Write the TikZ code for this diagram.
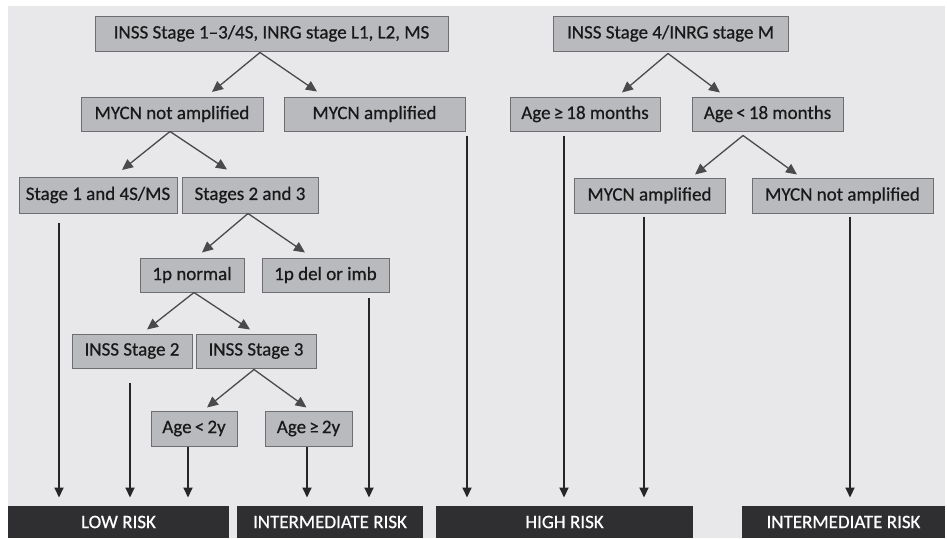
\documentclass[tikz,border=0pt]{standalone}
\usepackage{fontspec}
\setmainfont{Carlito}
\newfontfamily\boxfont{Carlito}[Ligatures=TeX,FakeBold=0.6]
\usetikzlibrary{arrows.meta}
\definecolor{bgcol}{rgb}{0.91,0.91,0.92}
\definecolor{boxcol}{rgb}{0.725,0.73,0.745}
\definecolor{edgecol}{rgb}{0.43,0.43,0.44}
\definecolor{barcol}{rgb}{0.185,0.185,0.195}
\definecolor{diagcol}{rgb}{0.29,0.29,0.30}
\definecolor{vertcol}{rgb}{0.15,0.15,0.16}

\begin{document}
\begin{tikzpicture}[x=1pt,y=-1pt,
  riskbox/.style={draw=edgecol,line width=1pt,fill=boxcol,inner sep=0pt,
    font=\boxfont\fontsize{19}{22}\selectfont,text=black!90},
  riskbar/.style={fill=barcol,inner sep=0pt,minimum height=32pt,
    font=\boxfont\fontsize{19}{22}\selectfont,text=white},
  split/.style={draw=diagcol,line width=1.3pt,-{Triangle[length=11pt,width=10pt]}},
  down/.style={draw=vertcol,line width=2pt,-{Triangle[length=10pt,width=9pt]}}]
\useasboundingbox (0,0) rectangle (947,538);
\fill [bgcol] (8,6) rectangle (945,538);

\node [riskbox,minimum width=353pt,minimum height=35pt] (top) at (271.5,33.5) {INSS Stage 1--3/4S, INRG stage L1, L2, MS};
\node [riskbox,minimum width=235pt,minimum height=35pt] (rtop) at (670.5,33.5) {INSS Stage 4/INRG stage M};
\node [riskbox,minimum width=182pt,minimum height=34pt] (nmyc) at (172,114) {MYCN not amplified};
\node [riskbox,minimum width=181pt,minimum height=34pt] (mamp) at (374.5,114) {MYCN amplified};
\node [riskbox,minimum width=150pt,minimum height=34pt] (agege) at (585,114) {Age\,≥\,18 months};
\node [riskbox,minimum width=151pt,minimum height=34pt] (agelt) at (767.5,114) {Age\,<\,18 months};
\node [riskbox,minimum width=158pt,minimum height=36pt] (sone) at (98,195) {Stage 1 and 4S/MS};
\node [riskbox,minimum width=136pt,minimum height=36pt] (stt) at (250,195) {Stages 2 and 3};
\node [riskbox,minimum width=151pt,minimum height=35pt] (ramp) at (649.5,195.5) {MYCN amplified};
\node [riskbox,minimum width=181pt,minimum height=35pt] (rnamp) at (842.5,195.5) {MYCN not amplified};
\node [riskbox,minimum width=104pt,minimum height=34pt] (pnorm) at (192,275) {1p normal};
\node [riskbox,minimum width=127pt,minimum height=34pt] (pdel) at (325.5,275) {1p del or imb};
\node [riskbox,minimum width=120pt,minimum height=34pt] (stwo) at (132,351) {INSS Stage 2};
\node [riskbox,minimum width=120pt,minimum height=34pt] (sthree) at (256,351) {INSS Stage 3};
\node [riskbox,minimum width=86pt,minimum height=35pt] (ylt) at (194,428.5) {Age\,<\,2y};
\node [riskbox,minimum width=87pt,minimum height=35pt] (yge) at (308.5,428.5) {Age\,≥\,2y};

\node [riskbar,minimum width=221pt] (low) at (118.5,522) {LOW RISK};
\node [riskbar,minimum width=186pt] (midl) at (330,522) {INTERMEDIATE RISK};
\node [riskbar,minimum width=257pt] (high) at (564.5,522) {HIGH RISK};
\node [riskbar,minimum width=203pt] (midr) at (843.5,522) {INTERMEDIATE RISK};

\draw [split] ([xshift=-11.5pt,yshift=-1pt]top.south) -- ([xshift=40pt,yshift=4.5pt]nmyc.north);
\draw [split] ([xshift=-11.5pt,yshift=-1pt]top.south) -- ([xshift=-57.5pt,yshift=5pt]mamp.north);
\draw [split] ([xshift=-2pt]nmyc.south) -- ([xshift=24pt,yshift=6.5pt]sone.north);
\draw [split] ([xshift=-2pt]nmyc.south) -- ([xshift=-23pt,yshift=7pt]stt.north);
\draw [split] ([xshift=-2pt]stt.south) -- ([xshift=10pt,yshift=5pt]pnorm.north);
\draw [split] ([xshift=-2pt]stt.south) -- ([xshift=-20.5pt,yshift=5pt]pdel.north);
\draw [split] ([xshift=2pt]pnorm.south) -- ([xshift=15pt,yshift=4pt]stwo.north);
\draw [split] ([xshift=2pt]pnorm.south) -- ([xshift=-6pt,yshift=4pt]sthree.north);
\draw [split] ([xshift=-2pt,yshift=-1pt]sthree.south) -- ([xshift=13pt,yshift=3pt]ylt.north);
\draw [split] ([xshift=-2pt,yshift=-1pt]sthree.south) -- ([xshift=-2pt,yshift=3pt]yge.north);
\draw [split] ([xshift=-2.5pt,yshift=-2pt]rtop.south) -- ([xshift=37pt,yshift=4pt]agege.north);
\draw [split] ([xshift=-2.5pt,yshift=-2pt]rtop.south) -- ([xshift=-47.5pt,yshift=4pt]agelt.north);
\draw [split] ([xshift=-24.5pt,yshift=-4pt]agelt.south) -- ([xshift=45.5pt,yshift=3pt]ramp.north);
\draw [split] ([xshift=-24.5pt,yshift=-4pt]agelt.south) -- ([xshift=-45.5pt,yshift=3pt]rnamp.north);

\draw [down] (sone.south) ++(-39,9) -- ++(0,275);
\draw [down] (stwo.south) ++(-2,14) -- ++(0,115);
\draw [down] (ylt.south) ++(-6,0) -- ++(0,51);
\draw [down] (yge.south) ++(-1.5,0) -- ++(0,51);
\draw [down] (pdel.south) ++(43.5,5) -- ++(0,200);
\draw [down] (mamp.south) ++(92.5,4) -- ++(0,362);
\draw [down] (agege.south) ++(-21,4) -- ++(0,362);
\draw [down] (ramp.south) ++(-5.5,3) -- ++(0,281);
\draw [down] (rnamp.south) ++(7.5,3) -- ++(0,281);
\end{tikzpicture}
\end{document}
